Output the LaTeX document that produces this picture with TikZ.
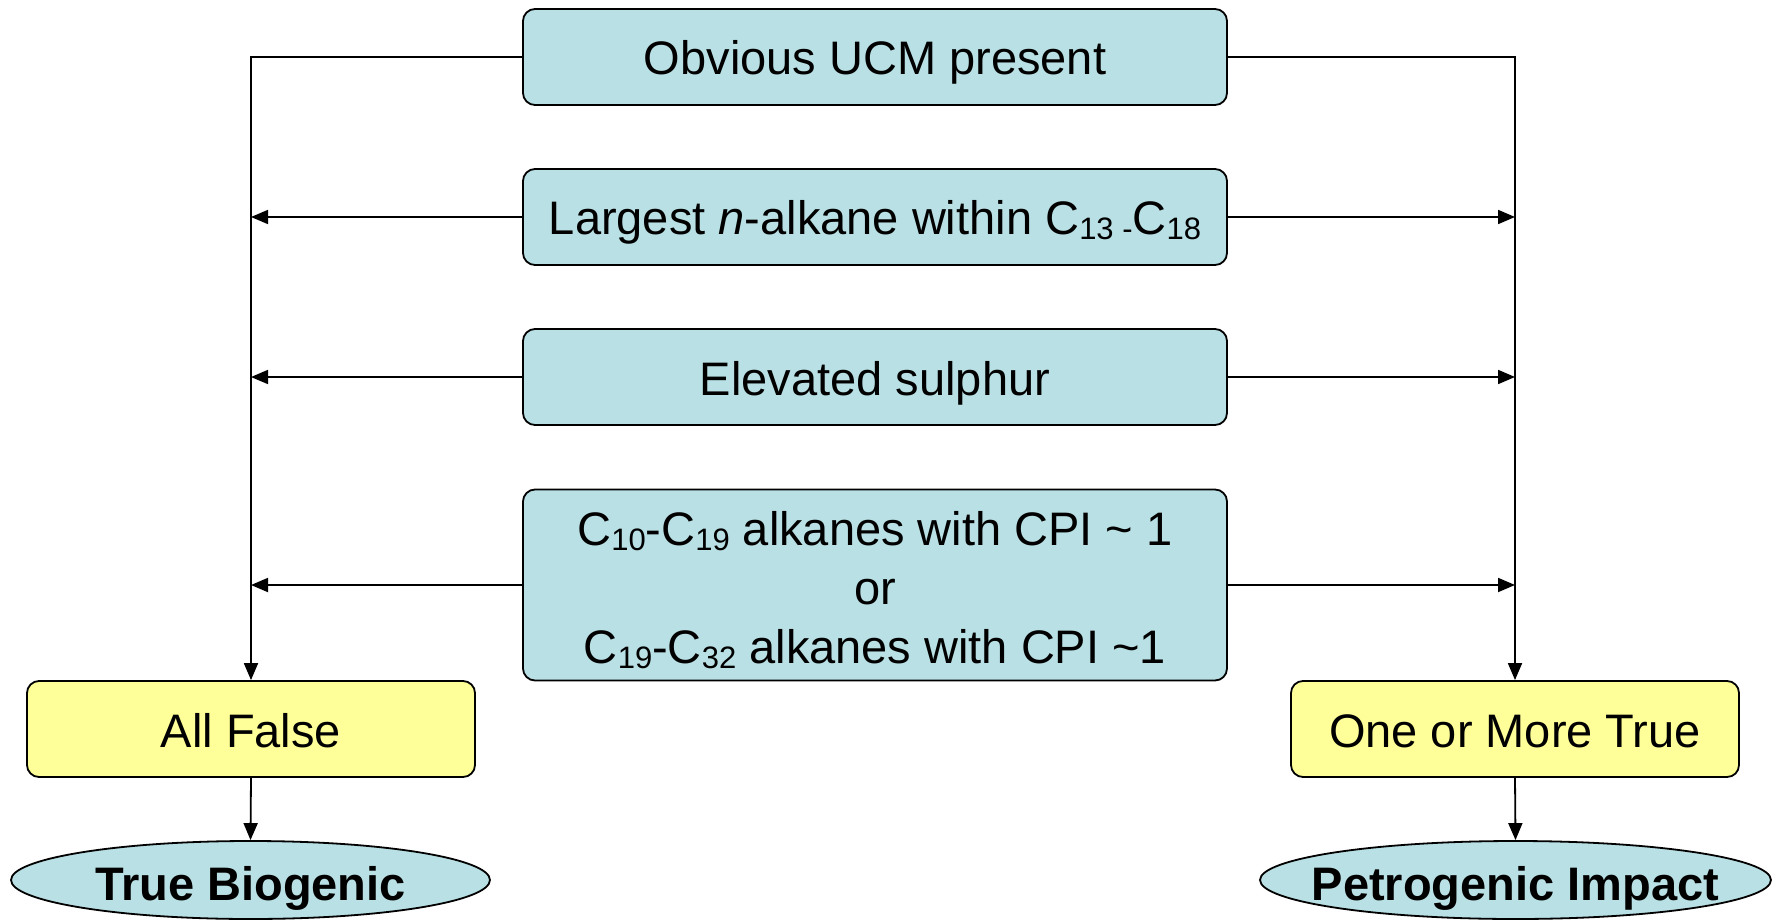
\documentclass[tikz,border=0pt]{standalone}
\usepackage{fontspec}
\setmainfont{Liberation Sans}
\usetikzlibrary{arrows.meta,shapes.geometric}
\definecolor{boxblue}{RGB}{185,224,228}
\definecolor{boxyellow}{RGB}{255,255,153}
\newcommand\mysub[1]{\raisebox{-5pt}{\fontsize{31}{31}\selectfont #1}}
\tikzset{
 crit/.style={draw=black, line width=1.8pt, fill=boxblue, rounded corners=12pt, minimum width=704pt, minimum height=96pt, inner sep=0pt, text height=40pt, text depth=4pt, font=\fontsize{47}{59}\selectfont, align=center},
 result/.style={draw=black, line width=1.8pt, fill=boxyellow, rounded corners=12pt, minimum width=448pt, minimum height=96pt, inner sep=0pt, text height=40pt, text depth=4pt, font=\fontsize{47}{57}\selectfont},
 outcome/.style={ellipse, draw=black, line width=1.8pt, fill=boxblue, inner sep=0pt, minimum height=78pt, text height=42pt, text depth=2pt, font=\bfseries\fontsize{47}{57}\selectfont},
 conn/.style={line width=1.8pt},
 arr/.style={conn, -{Triangle[length=17pt,width=14pt]}}
}
\begin{document}
\begin{tikzpicture}[x=1pt,y=-1pt]
\useasboundingbox (0,0) rectangle (1780,920);
\node[crit] (b1) at (875,57) {Obvious UCM present};
\node[crit] (b2) at (875,217) {Largest \textit{n}-alkane within C\mysub{13 -}C\mysub{18}};
\node[crit] (b3) at (875,377) {Elevated sulphur};
\node[crit, minimum height=191pt, text height=160pt, text depth=4pt] (b4) at (875,585) {C\mysub{10}-C\mysub{19} alkanes with CPI \textasciitilde{} 1\\or\\C\mysub{19}-C\mysub{32} alkanes with CPI \textasciitilde1};
\node[result] (af) at (251,729) {All False};
\node[result] (ot) at (1515,729) {One or More True};
\node[outcome, minimum width=479pt] (tb) at (250.5,880) {\makebox[0pt]{True Biogenic}};
\node[outcome, minimum width=511pt] (pi) at (1515.5,880) {\makebox[0pt]{Petrogenic Impact}};
\draw[arr] (b1.west) -| (af.north);
\draw[arr] (b1.east) -| (ot.north);
\draw[arr] (b2.west) -- (b2.west -| af.north);
\draw[arr] (b3.west) -- (b3.west -| af.north);
\draw[arr] (b4.west) -- (b4.west -| af.north);
\draw[arr] (b2.east) -- (b2.east -| ot.north);
\draw[arr] (b3.east) -- (b3.east -| ot.north);
\draw[arr] (b4.east) -- (b4.east -| ot.north);
\draw[arr] (af.south) -- (tb.north);
\draw[arr] (ot.south) -- (pi.north);
\end{tikzpicture}
\end{document}
